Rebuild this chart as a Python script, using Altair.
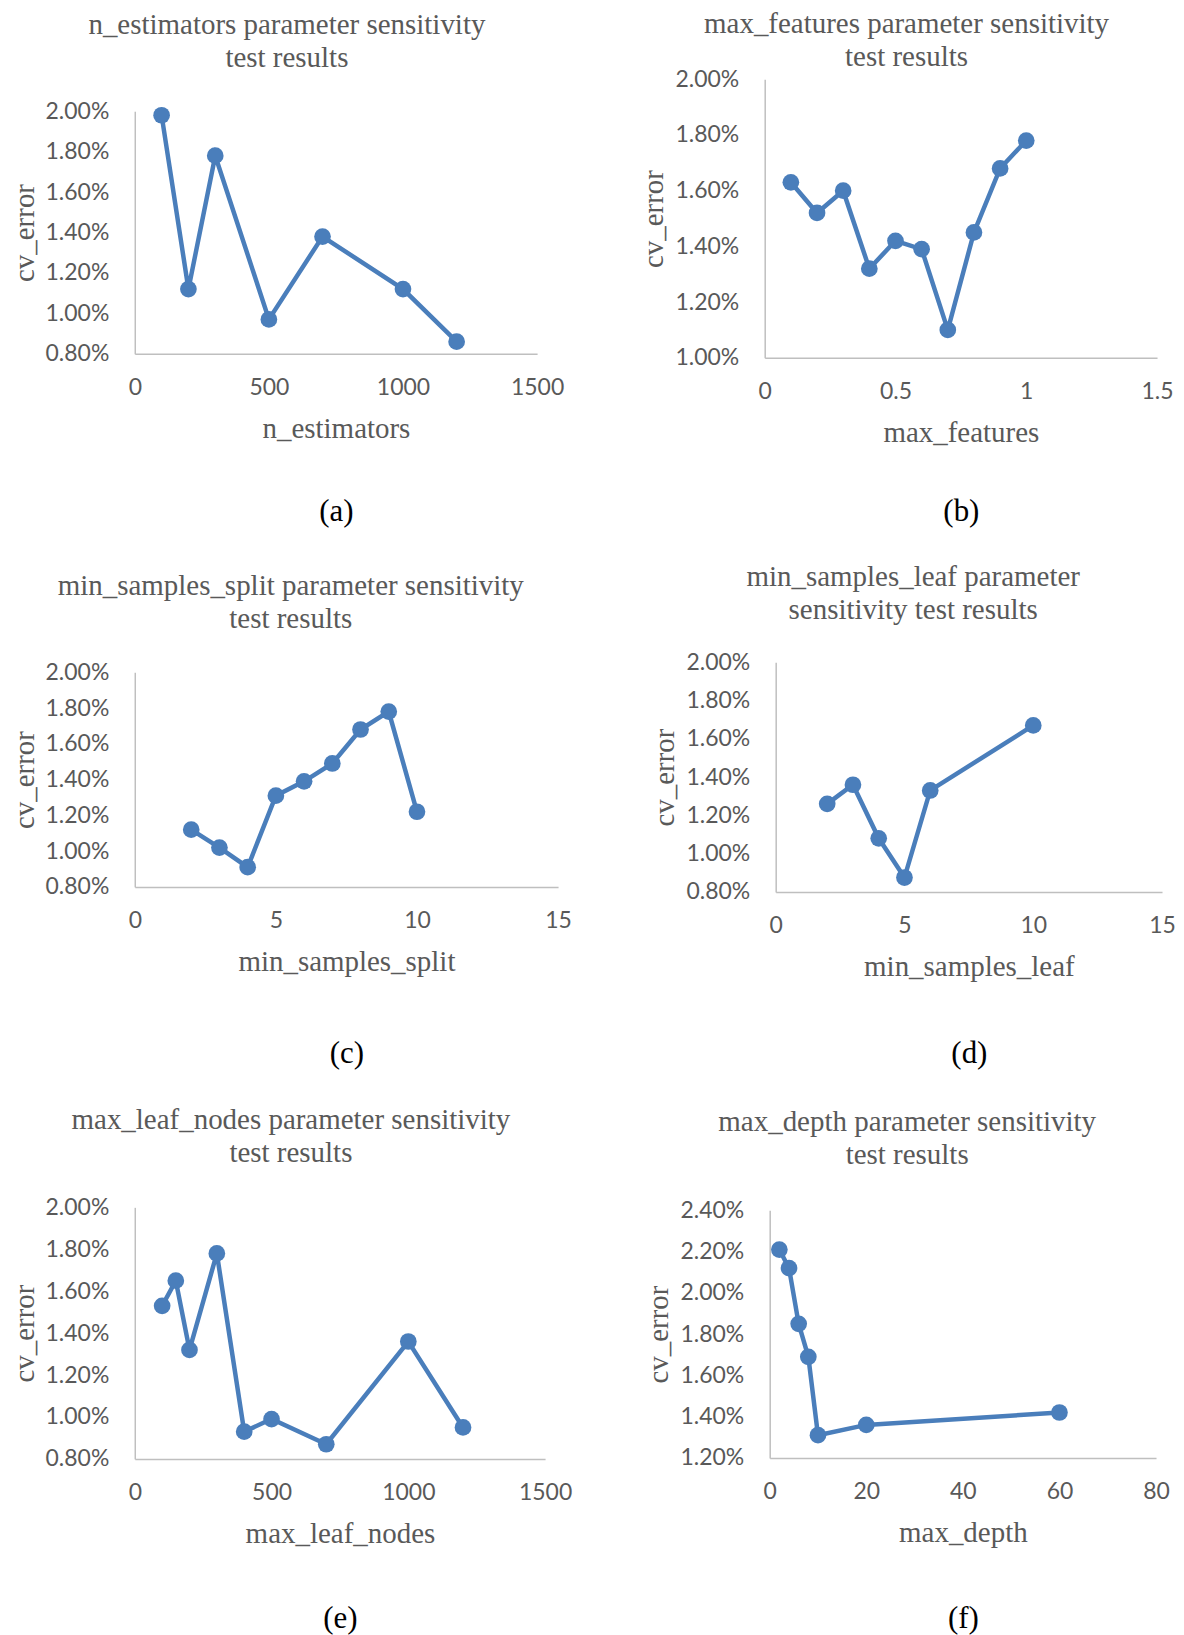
import altair as alt
import pandas as pd

BLUE = "#4A7EBB"

# ---- data ----
a_x = [100, 200, 300, 500, 700, 1000, 1200]
a_y = [0.0198, 0.0112, 0.0178, 0.0097, 0.0138, 0.0112, 0.0086]

b_x = [0.1, 0.2, 0.3, 0.4, 0.5, 0.6, 0.7, 0.8, 0.9, 1.0]
b_y = [0.0163, 0.0152, 0.0160, 0.0132, 0.0142, 0.0139, 0.0110, 0.0145, 0.0168, 0.0178]

c_x = [2, 3, 4, 5, 6, 7, 8, 9, 10]
c_y = [0.0112, 0.0102, 0.0091, 0.0131, 0.0139, 0.0149, 0.0168, 0.0178, 0.0122]

d_x = [2, 3, 4, 5, 6, 10]
d_y = [0.0126, 0.0136, 0.0108, 0.00875, 0.0133, 0.0167]

e_x = [100, 150, 200, 300, 400, 500, 700, 1000, 1200]
e_y = [0.0153, 0.0165, 0.0132, 0.0178, 0.0093, 0.0099, 0.0087, 0.0136, 0.0095]

f_x = [2, 4, 6, 8, 10, 20, 60]
f_y = [0.0221, 0.0212, 0.0185, 0.0169, 0.0131, 0.0136, 0.0142]

titles = [
    ["n_estimators parameter sensitivity", "test results"],
    ["max_features parameter sensitivity", "test results"],
    ["min_samples_split parameter sensitivity", "test results"],
    ["min_samples_leaf parameter", "sensitivity test results"],
    ["max_leaf_nodes parameter sensitivity", "test results"],
    ["max_depth parameter sensitivity", "test results"],
]
x_labels = ["n_estimators", "max_features", "min_samples_split",
            "min_samples_leaf", "max_leaf_nodes", "max_depth"]
captions = ["(a)", "(b)", "(c)", "(d)", "(e)", "(f)"]

x_ticks = [
    [0, 500, 1000, 1500],
    [0, 0.5, 1, 1.5],
    [0, 5, 10, 15],
    [0, 5, 10, 15],
    [0, 500, 1000, 1500],
    [0, 20, 40, 60, 80],
]
x_formats = ["d", "~g", "d", "d", "d", "d"]
y_ticks_a = [0.008, 0.010, 0.012, 0.014, 0.016, 0.018, 0.020]
y_ticks_b = [0.010, 0.012, 0.014, 0.016, 0.018, 0.020]
y_ticks_f = [0.012, 0.014, 0.016, 0.018, 0.020, 0.022, 0.024]
y_ticks = [y_ticks_a, y_ticks_b, y_ticks_a, y_ticks_a, y_ticks_a, y_ticks_f]

xs = [a_x, b_x, c_x, d_x, e_x, f_x]
ys = [a_y, b_y, c_y, d_y, e_y, f_y]

# layout (pixels): plot-group sizes, and the y-range inside each group
widths = [403, 393, 424, 387, 411, 387]
heights = [275, 279, 225, 230, 252, 251]
y_ranges = [[275, 32], None, [225, 10], None, None, [251, 3]]
title_offsets = [6, -3.5, 27, 26, 28.5, 29]
caption_offsets = [143, 139, 152, 147, 145, 146]


def panel(i):
    df = pd.DataFrame({"x": xs[i], "y": ys[i]})
    xt = x_ticks[i]
    yt = y_ticks[i]
    xscale = alt.Scale(domain=[xt[0], xt[-1]], nice=False, zero=False)
    if y_ranges[i] is None:
        yscale = alt.Scale(domain=[yt[0], yt[-1]], nice=False, zero=False)
    else:
        yscale = alt.Scale(domain=[yt[0], yt[-1]], nice=False, zero=False,
                           range=y_ranges[i])
    y_enc = alt.Y("y:Q", scale=yscale,
                  axis=alt.Axis(values=yt, format=".2%", title="cv_error",
                                titlePadding=6, labelPadding=26))
    base = alt.Chart(df)
    line = base.mark_line(color=BLUE, strokeWidth=4.5).encode(
        x=alt.X("x:Q", scale=xscale,
                axis=alt.Axis(values=xt, format=x_formats[i], title=x_labels[i],
                              titlePadding=15, labelPadding=23, labelFlush=False)),
        y=y_enc,
    )
    pts = base.mark_circle(color=BLUE, size=280, opacity=1).encode(
        x=alt.X("x:Q", scale=xscale,
                axis=alt.Axis(orient="bottom", offset=caption_offsets[i],
                              title=captions[i], labels=False, domain=False,
                              ticks=False, titlePadding=0, titleColor="black",
                              titleFontSize=31, titleFont="Liberation Serif")),
        y=y_enc,
    )
    return alt.layer(line, pts).resolve_axis(x="independent").properties(
        width=widths[i], height=heights[i],
        title=alt.TitleParams(titles[i], anchor="middle", frame="bounds",
                              offset=title_offsets[i]),
    )


row1 = alt.hconcat(panel(0), panel(1), spacing=76)
row2 = alt.hconcat(panel(2), panel(3), spacing=79)
row3 = alt.hconcat(panel(4), panel(5), spacing=73)

chart = alt.vconcat(row1, row2, row3, spacing=37).properties(
    padding={"left": 2, "top": 0, "right": 0, "bottom": 0}
).configure_view(stroke=None).configure_axis(
    domainColor="#BFBFBF", domainWidth=1.5, ticks=False, grid=False,
    labelFont="Lato", labelFontSize=23, labelColor="#595959",
    titleFont="Liberation Serif", titleFontSize=29, titleColor="#595959",
    titleFontWeight="normal",
).configure_title(
    font="Liberation Serif", fontSize=29, color="#595959", fontWeight="normal",
    lineHeight=33,
)

chart.save("out.html", embed_options={"renderer": "svg", "actions": False})
